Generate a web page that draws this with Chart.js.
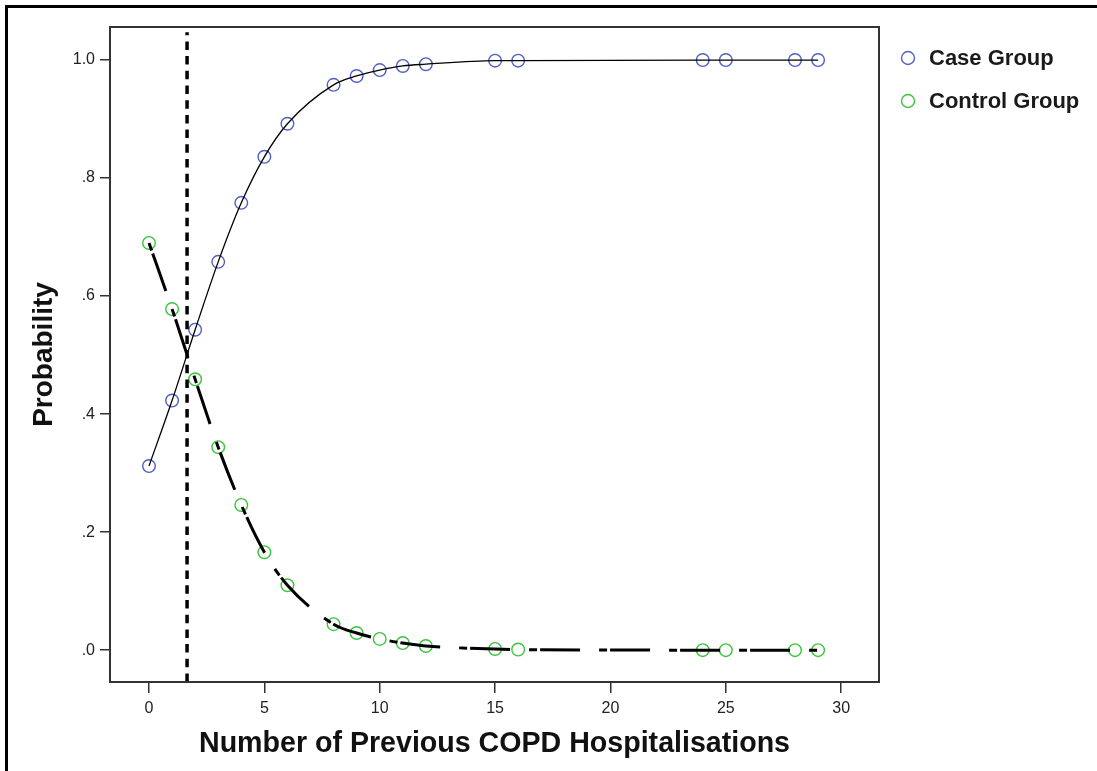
<!DOCTYPE html>
<html>
<head>
<meta charset="utf-8">
<script src="https://cdn.jsdelivr.net/npm/chart.js@4/dist/chart.umd.min.js"></script>
<style>
  html, body { margin: 0; padding: 0; background: #fff; overflow: hidden; }
  #frame {
    position: absolute; left: 5px; top: 5px; width: 2000px; height: 2000px;
    border-left: 3px solid #000; border-top: 3px solid #000;
  }
  #chart { position: absolute; left: 0; top: 0; }
</style>
</head>
<body>
<div id="frame"></div>
<canvas id="chart" width="1097" height="771"></canvas>
<script>
  // hospitalisations observed (x values)
  const hospitalisations = [0, 1, 2, 3, 4, 5, 6, 8, 9, 10, 11, 12, 15, 16, 24, 25, 28, 29];
  // predicted probability, case group
  const caseProb = [0.312, 0.423, 0.543, 0.658, 0.758, 0.836, 0.892, 0.958, 0.973, 0.983,
    0.990, 0.993, 0.999, 0.999, 1.0, 1.0, 1.0, 1.0];
  // predicted probability, control group
  const controlProb = [0.690, 0.578, 0.459, 0.344, 0.246, 0.166, 0.110, 0.044, 0.029, 0.019,
    0.012, 0.007, 0.002, 0.001, 0.0, 0.0, 0.0, 0.0];
  const seriesNames = ["Case Group", "Control Group"];
  const cutoff = 1.65;

  const xTicks = [0, 5, 10, 15, 20, 25, 30];
  const yTicks = [0, 0.2, 0.4, 0.6, 0.8, 1.0];
  const yTickLabels = [".0", ".2", ".4", ".6", ".8", "1.0"];

  const xRange = [-1.69, 31.64];
  const yRange = [-0.054, 1.056];

  function toPoints(xs, ys) {
    return xs.map((x, i) => ({ x: x, y: ys[i] }));
  }

  // frame around plot + legend drawn at fixed spot
  const framePlugin = {
    id: "framePlugin",
    afterDraw(chart) {
      const ctx = chart.ctx;
      const a = chart.chartArea;
      ctx.save();
      ctx.strokeStyle = "#333";
      ctx.lineWidth = 2;
      ctx.strokeRect(a.left, a.top, a.right - a.left, a.bottom - a.top);

      const items = chart.data.datasets.filter((d) => d.inLegend);
      items.forEach((d, i) => {
        const y = 58 + i * 43;
        ctx.beginPath();
        ctx.arc(908, y, 6.5, 0, Math.PI * 2);
        ctx.strokeStyle = d.borderColor;
        ctx.lineWidth = 1.4;
        ctx.stroke();
        ctx.fillStyle = "#1a1a1a";
        ctx.font = "bold 22px 'Liberation Sans', Arial, sans-serif";
        ctx.textBaseline = "middle";
        ctx.textAlign = "left";
        ctx.fillText(d.label, 929, y + 1);
      });
      ctx.restore();
    },
  };

  function buildChart() {
    const ctx = document.getElementById("chart").getContext("2d");
    return new Chart(ctx, {
      type: "scatter",
      data: {
        datasets: [
          {
            label: seriesNames[0],
            inLegend: true,
            data: toPoints(hospitalisations, caseProb),
            borderColor: "#4f5fc4",
            backgroundColor: "rgba(0,0,0,0)",
            pointRadius: 6.3,
            pointBorderWidth: 1.4,
            showLine: false,
            order: 2,
          },
          {
            label: seriesNames[1],
            inLegend: true,
            data: toPoints(hospitalisations, controlProb),
            borderColor: "#3cc43c",
            backgroundColor: "rgba(0,0,0,0)",
            pointRadius: 6.3,
            pointBorderWidth: 1.4,
            showLine: false,
            order: 2,
          },
          {
            label: "case fit",
            data: toPoints(hospitalisations, caseProb),
            borderColor: "#000",
            borderWidth: 1.3,
            pointRadius: 0,
            showLine: true,
            cubicInterpolationMode: "monotone",
            order: 1,
          },
          {
            label: "control fit",
            data: toPoints(hospitalisations, controlProb),
            borderColor: "#000",
            borderWidth: 3,
            borderDash: [8, 3, 40, 19],
            pointRadius: 0,
            showLine: true,
            cubicInterpolationMode: "monotone",
            order: 1,
          },
          {
            label: "cutoff",
            data: [{ x: cutoff, y: yRange[0] }, { x: cutoff, y: 1.047 }],
            borderColor: "#000",
            borderWidth: 3.5,
            borderDash: [8.5, 6.2],
            pointRadius: 0,
            showLine: true,
            order: 1,
          },
        ],
      },
      options: {
        responsive: false,
        animation: false,
        devicePixelRatio: 1,
        layout: { padding: { left: 0, top: 27, right: 218, bottom: 0 } },
        plugins: {
          legend: { display: false },
          tooltip: { enabled: false },
        },
        scales: {
          x: {
            type: "linear",
            min: xRange[0],
            max: xRange[1],
            afterFit(scale) { scale.height = 89; },
            afterBuildTicks(axis) { axis.ticks = xTicks.map((v) => ({ value: v })); },
            border: { display: true, color: "#333", width: 2 },
            grid: { drawOnChartArea: false, tickLength: 11, color: "#333", lineWidth: 1.5 },
            ticks: {
              padding: 6,
              color: "#222",
              font: { family: "'Liberation Sans', Arial, sans-serif", size: 16 },
            },
            title: {
              display: true,
              text: "Number of Previous COPD Hospitalisations",
              color: "#111",
              padding: { top: 0, bottom: 10 },
              font: { family: "'Liberation Sans', Arial, sans-serif", size: 28.6, weight: "bold" },
            },
          },
          y: {
            type: "linear",
            min: yRange[0],
            max: yRange[1],
            afterFit(scale) { scale.width = 110; },
            afterBuildTicks(axis) { axis.ticks = yTicks.map((v) => ({ value: v })); },
            border: { display: true, color: "#333", width: 2 },
            grid: { drawOnChartArea: false, tickLength: 10, color: "#333", lineWidth: 1.5 },
            ticks: {
              padding: 5,
              color: "#222",
              font: { family: "'Liberation Sans', Arial, sans-serif", size: 16 },
              callback: (value) => {
                const i = yTicks.findIndex((t) => Math.abs(t - value) < 1e-6);
                return i >= 0 ? yTickLabels[i] : "";
              },
            },
            title: {
              display: true,
              text: "Probability",
              color: "#111",
              padding: { top: 27, bottom: 0 },
              font: { family: "'Liberation Sans', Arial, sans-serif", size: 28, weight: "bold" },
            },
          },
        },
      },
      plugins: [framePlugin],
    });
  }

  document.addEventListener("DOMContentLoaded", () => {
    buildChart();
  });
</script>
</body>
</html>
